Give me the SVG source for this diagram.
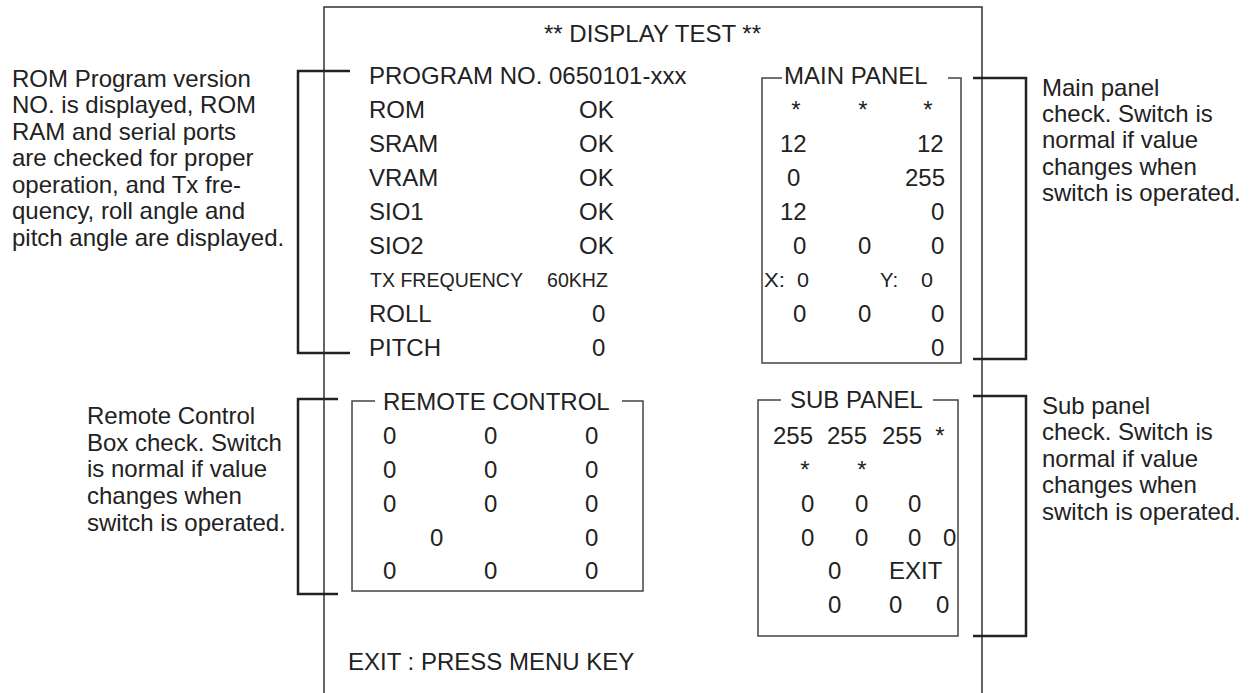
<svg xmlns="http://www.w3.org/2000/svg" width="1254" height="693" viewBox="0 0 1254 693">
<style>
text{font-family:"Liberation Sans",Arial,sans-serif;fill:#222}
.s{font-size:24px}
.a{font-size:24px}
.n{font-size:21px}
.frame{fill:none;stroke:#333;stroke-width:1.5}
.box{fill:none;stroke:#444;stroke-width:1.5}
.br{fill:none;stroke:#222;stroke-width:2.5}
</style>
<rect width="1254" height="693" fill="#fff"/>
<g id="screen">
<path class="frame" d="M324,693 V7 H982 V693"/>
<text class="s" x="544" y="42">** DISPLAY TEST **</text>
<text class="s" x="369" y="84">PROGRAM NO. 0650101-xxx</text>
<text class="s" x="369" y="118">ROM</text><text class="s" x="579" y="118">OK</text>
<text class="s" x="369" y="152">SRAM</text><text class="s" x="579" y="152">OK</text>
<text class="s" x="369" y="186">VRAM</text><text class="s" x="579" y="186">OK</text>
<text class="s" x="369" y="220">SIO1</text><text class="s" x="579" y="220">OK</text>
<text class="s" x="369" y="254">SIO2</text><text class="s" x="579" y="254">OK</text>
<text class="n" x="370" y="287" textLength="153" lengthAdjust="spacingAndGlyphs">TX FREQUENCY</text>
<text class="n" x="547" y="287" textLength="61" lengthAdjust="spacingAndGlyphs">60KHZ</text>
<text class="s" x="369" y="322">ROLL</text><text class="s" x="592" y="322">0</text>
<text class="s" x="369" y="356">PITCH</text><text class="s" x="592" y="356">0</text>
<text class="s" x="348" y="670">EXIT : PRESS MENU KEY</text>
</g>
<g id="main-panel">
<path class="box" d="M782,78 H762 V363 H961 V78 H948"/>
<text class="s" x="784" y="84">MAIN PANEL</text>
<text class="s" x="796" y="118" text-anchor="middle">*</text>
<text class="s" x="863" y="118" text-anchor="middle">*</text>
<text class="s" x="928" y="118" text-anchor="middle">*</text>
<text class="s" x="780" y="152">12</text><text class="s" x="917" y="152">12</text>
<text class="s" x="787" y="186">0</text><text class="s" x="905" y="186">255</text>
<text class="s" x="780" y="220">12</text><text class="s" x="931" y="220">0</text>
<text class="s" x="793" y="254">0</text><text class="s" x="858" y="254">0</text><text class="s" x="931" y="254">0</text>
<text class="n" x="764" y="287" textLength="21" lengthAdjust="spacingAndGlyphs">X:</text>
<text class="n" x="797" y="287" textLength="12" lengthAdjust="spacingAndGlyphs">0</text>
<text class="n" x="880" y="287" textLength="18" lengthAdjust="spacingAndGlyphs">Y:</text>
<text class="n" x="921" y="287" textLength="12" lengthAdjust="spacingAndGlyphs">0</text>
<text class="s" x="793" y="322">0</text><text class="s" x="858" y="322">0</text><text class="s" x="931" y="322">0</text>
<text class="s" x="931" y="356">0</text>
</g>
<g id="remote-control">
<path class="box" d="M375,401 H352 V591 H643 V401 H622"/>
<text class="s" x="383" y="410">REMOTE CONTROL</text>
<text class="s" x="383" y="444">0</text><text class="s" x="484" y="444">0</text><text class="s" x="585" y="444">0</text>
<text class="s" x="383" y="478">0</text><text class="s" x="484" y="478">0</text><text class="s" x="585" y="478">0</text>
<text class="s" x="383" y="512">0</text><text class="s" x="484" y="512">0</text><text class="s" x="585" y="512">0</text>
<text class="s" x="430" y="546">0</text><text class="s" x="585" y="546">0</text>
<text class="s" x="383" y="579">0</text><text class="s" x="484" y="579">0</text><text class="s" x="585" y="579">0</text>
</g>
<g id="sub-panel">
<path class="box" d="M781,400 H758 V636 H958 V400 H933"/>
<text class="s" x="790" y="408">SUB PANEL</text>
<text class="s" x="773" y="444">255</text><text class="s" x="827" y="444">255</text><text class="s" x="882" y="444">255</text>
<text class="s" x="940" y="444" text-anchor="middle">*</text>
<text class="s" x="805" y="478" text-anchor="middle">*</text>
<text class="s" x="862" y="478" text-anchor="middle">*</text>
<text class="s" x="801" y="512">0</text><text class="s" x="855" y="512">0</text><text class="s" x="908" y="512">0</text>
<text class="s" x="801" y="546">0</text><text class="s" x="855" y="546">0</text><text class="s" x="908" y="546">0</text><text class="s" x="943" y="546">0</text>
<text class="s" x="828" y="579">0</text><text class="s" x="889" y="579">EXIT</text>
<text class="s" x="828" y="613">0</text><text class="s" x="889" y="613">0</text><text class="s" x="936" y="613">0</text>
</g>
<g id="note-rom">
<text class="a"><tspan x="12" y="87">ROM Program version</tspan><tspan x="12" y="113">NO. is displayed, ROM</tspan><tspan x="12" y="140">RAM and serial ports</tspan><tspan x="12" y="166">are checked for proper</tspan><tspan x="12" y="193">operation, and Tx fre-</tspan><tspan x="12" y="219">quency, roll angle and</tspan><tspan x="12" y="246">pitch angle are displayed.</tspan></text>
</g>
<g id="note-remote">
<text class="a"><tspan x="87" y="424">Remote Control</tspan><tspan x="87" y="451">Box check. Switch</tspan><tspan x="87" y="477">is normal if value</tspan><tspan x="87" y="504">changes when</tspan><tspan x="87" y="531">switch is operated.</tspan></text>
</g>
<g id="note-main">
<text class="a"><tspan x="1042" y="96">Main panel</tspan><tspan x="1042" y="122">check. Switch is</tspan><tspan x="1042" y="148">normal if value</tspan><tspan x="1042" y="175">changes when</tspan><tspan x="1042" y="201">switch is operated.</tspan></text>
</g>
<g id="note-sub">
<text class="a"><tspan x="1042" y="414">Sub panel</tspan><tspan x="1042" y="440">check. Switch is</tspan><tspan x="1042" y="467">normal if value</tspan><tspan x="1042" y="493">changes when</tspan><tspan x="1042" y="520">switch is operated.</tspan></text>
</g>
<g id="connectors">
<path class="br" d="M350,71 H298 V353 H350"/>
<path class="br" d="M338,399 H298 V594 H338"/>
<path class="br" d="M973,78 H1026 V359 H973"/>
<path class="br" d="M973,396 H1026 V636 H973"/>
</g>
</svg>
